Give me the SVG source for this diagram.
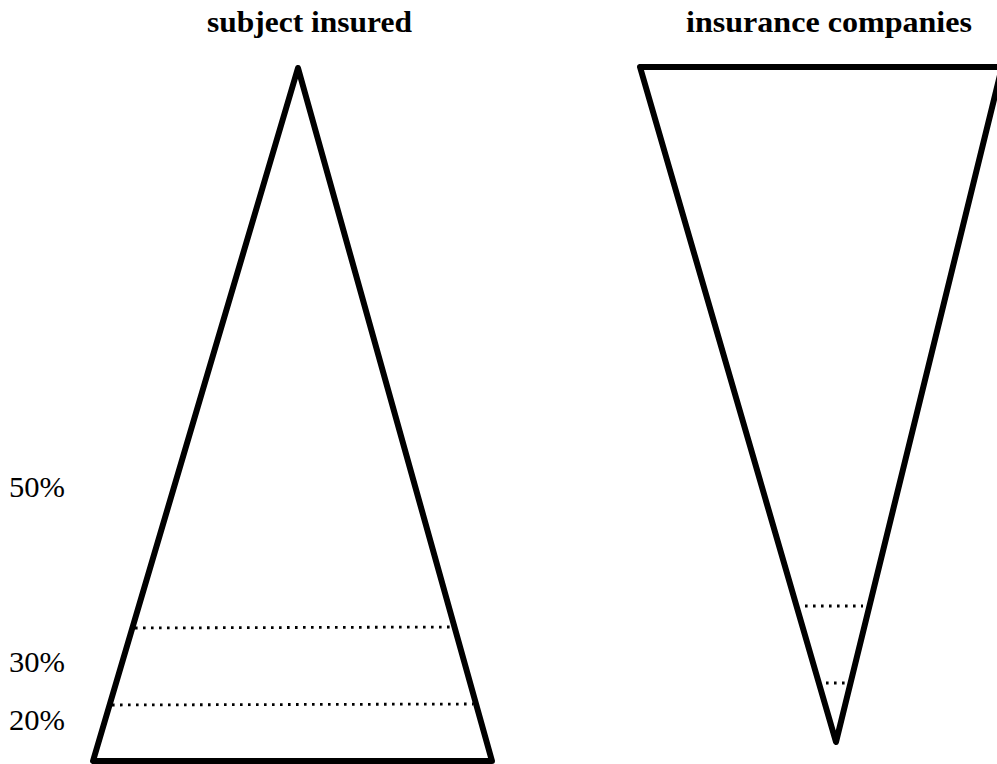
<svg xmlns="http://www.w3.org/2000/svg" width="997" height="764" viewBox="0 0 997 764">
  <style>
    .tri { fill: none; stroke: #000; stroke-width: 6; stroke-linejoin: round; stroke-linecap: round; }
    .dot { fill: none; stroke: #000; stroke-width: 2.8; stroke-dasharray: 2.6 5.4; }
    .title { font-family: "Liberation Serif", "Times New Roman", serif; font-weight: bold; font-size: 29px; fill: #000; }
    .pct { font-family: "Liberation Serif", "Times New Roman", serif; font-size: 30px; fill: #000; }
  </style>
  <rect width="997" height="764" fill="#fff"/>

  <g id="subject-insured">
    <text class="title" x="207" y="32" textLength="205" lengthAdjust="spacingAndGlyphs">subject insured</text>
    <polygon class="tri" points="298,68 93,761 492,761"/>
    <line class="dot" x1="135" y1="628" x2="453" y2="627"/>
    <line class="dot" x1="112" y1="705" x2="473" y2="704"/>
  </g>

  <g id="insurance-companies">
    <text class="title" x="686" y="32" textLength="286" lengthAdjust="spacingAndGlyphs">insurance companies</text>
    <polygon class="tri" points="640,67 1002,67 836,742"/>
    <line class="dot" x1="805" y1="606" x2="863" y2="606"/>
    <line class="dot" x1="826" y1="683" x2="845" y2="683"/>
  </g>

  <g id="labels">
    <text class="pct" x="9" y="497" textLength="56" lengthAdjust="spacingAndGlyphs">50%</text>
    <text class="pct" x="9" y="672" textLength="56" lengthAdjust="spacingAndGlyphs">30%</text>
    <text class="pct" x="9" y="730" textLength="56" lengthAdjust="spacingAndGlyphs">20%</text>
  </g>

  <g id="connectors"></g>
</svg>
